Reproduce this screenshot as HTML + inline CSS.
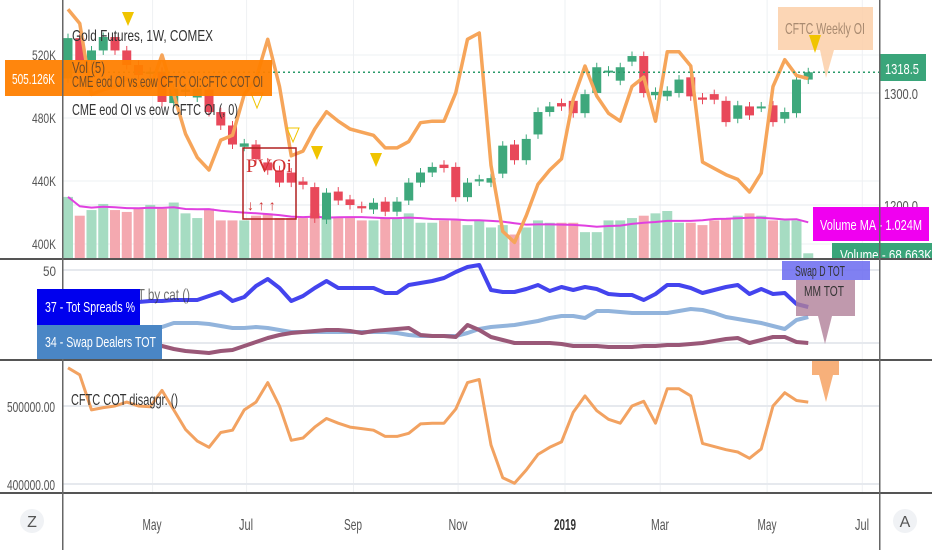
<!DOCTYPE html>
<html><head><meta charset="utf-8">
<style>
html,body{margin:0;padding:0;background:#fff;}
body{width:932px;height:550px;overflow:hidden;font-family:"Liberation Sans",sans-serif;}
svg{display:block;}
</style></head>
<body>
<svg id="chart" width="932" height="550" viewBox="0 0 932 550" xmlns="http://www.w3.org/2000/svg">
<g id="grid"></g>
<g id="vols"></g>
<g id="candles"></g>
<g id="lines"></g>
<g id="over"></g>
</svg>
<script>
// ---- data ----
const months = ["May","Jul","Sep","Nov","2019","Mar","May","Jul"];
const monthWeek = [7.2,15.2,24.3,33.2,42.3,50.4,59.5,67.6];
const opens = [1313,1349,1329,1338,1350,1338,1325,1317,1319,1291,1301,1296,1303,1283,1271,1252,1254,1238,1231,1229,1221,1216,1187,1212,1205,1199,1196,1203,1194,1204,1220,1229,1236,1234,1207,1221,1220,1228,1254,1240,1263,1283,1291,1293,1282,1300,1319,1311,1328,1333,1298,1297,1300,1314,1296,1299,1293,1277,1288,1287,1289,1277,1282,1312];
const closes = [1349,1329,1338,1350,1338,1325,1316,1319,1292,1304,1303,1304,1283,1271,1254,1255,1241,1231,1220,1220,1218,1188,1211,1204,1200,1197,1202,1194,1203,1220,1229,1234,1233,1207,1220,1223,1224,1253,1240,1259,1283,1288,1288,1282,1299,1323,1320,1323,1333,1300,1301,1302,1312,1297,1294,1294,1274,1289,1280,1288,1274,1283,1312,1318.5];
const volumes = [1.3,0.9,1.02,1.15,1.02,0.98,1.05,1.13,1.05,1.18,0.95,0.85,1.05,0.8,0.8,0.8,0.9,0.95,0.85,0.85,0.85,0.95,0.85,0.85,0.85,0.8,0.8,0.85,0.85,0.95,0.75,0.75,0.8,0.8,0.7,0.8,0.65,0.7,0.5,0.65,0.8,0.75,0.75,0.75,0.55,0.55,0.8,0.8,0.85,0.9,0.95,1.0,0.75,0.75,0.7,0.8,0.85,0.9,0.95,0.9,0.8,0.8,0.8,0.1];
const openInterestK = [549,540,495,498,500,505,500,499,520,495,470,455,447,466,469,495,505,530,500,456,459,473,484,478,473,471,469,461,461,465,477,478,478,496,530,534,450,408,401,418,438,447,454,492,513,494,483,478,500,506,478,522,522,513,452,448,444,441,433,445,500,517,507,505];
const totSpreads = [32.5,33,33.5,32.5,33,33.5,34,34.5,34.5,35,35,35,37,39,34.5,36.5,42,45.5,41,34.5,37,41,44.5,41,41,41,41,38.5,38.5,42.5,43.5,44.5,46,49,51.5,52.5,40,39,39,40.5,42.5,39.5,41.5,40,41.5,40.5,38,37.5,37.5,35,38,42.5,42.5,41,38.5,40,41.5,42.5,38,40.5,38,38.5,33,31.5];
const mmTot = [22,22,21.5,21.5,21,21,21,21,21.5,23.5,23.5,23.5,23,22,21,21,21.5,21,20,19,19,19,19,19,19,19,19,19,18.5,17.5,17,17,17,17,18.5,20.5,21.5,22,22.5,23.5,24.5,26,27,27,26,29.5,29.5,29,28.5,28.5,28.5,28.5,29.5,30.5,30,28.5,26.5,25.5,24.5,23.5,22,20.5,25,26.5];
const swapDealers = [12.5,12.5,12,11.5,11.5,12,12.5,12.5,12,10.5,9.5,9,8.5,9.5,10,12,14,16,17.5,18.5,19,19.5,20,20,19.5,18.5,19.5,20,20.5,21,17.5,17,17,16.5,22.5,20,16.5,15,13.5,13.5,13.5,13.5,13,12,12,12,11.5,11.5,11.5,12,12,12.5,12.5,13,13.5,14.5,15.5,16,13.5,15,16.5,16.5,14,13.5];
const leftTicks = [520,480,440,400];
const rightTicks = [1300,1200];
const pane3Ticks = [500,400];

// ---- scales ----
const X0=63, X1=880;
const xW = i => 68 + i*11.75;
const yL = k => 244 - (k-400)*1.575;
const yP = p => 93 - (p-1300)*1.12;
const yV = m => 258 - m*47;
const y2 = v => 370 - 2*v;
const y3 = k => 406 - (k-500)*0.78;

const NS="http://www.w3.org/2000/svg";
function mk(parent,tag,attrs,text){
  const e=document.createElementNS(NS,tag);
  for(const k in attrs) e.setAttribute(k,attrs[k]);
  if(text!==undefined) e.textContent=text;
  parent.appendChild(e); return e;
}
const G=id=>document.getElementById(id);
const grid=G('grid'), vols=G('vols'), cand=G('candles'), lines=G('lines'), over=G('over');

monthWeek.forEach((w,i)=>{
  const l=mk(grid,'line',{x1:xW(w),x2:xW(w),y1:0,y2:493,stroke:'#eef0f3','stroke-width':1});
  
  
});
leftTicks.forEach(k=>{
  const l=mk(grid,'line',{x1:X0,x2:X1,y1:yL(k),y2:yL(k),stroke:'#eef0f3'});
  
  
  const t=mk(grid,'text',{x:56,y:yL(k)+5,'text-anchor':'end','font-size':14,fill:'#555',textLength:24,lengthAdjust:'spacingAndGlyphs'},k+'K');
  
  
});
rightTicks.forEach(p=>{
  const l=mk(grid,'line',{x1:X0,x2:X1,y1:yP(p),y2:yP(p),stroke:'#e6e9ee'});
  
  
  const t=mk(grid,'text',{x:884,y:yP(p)+6,'font-size':15,fill:'#555',textLength:34,lengthAdjust:'spacingAndGlyphs'},p.toFixed(1));
  
  
});
[[50,270],[30,343]].forEach(a=>{
  const l=mk(grid,'line',{x1:X0,x2:X1,y1:a[1],y2:a[1],stroke:'#e6e9ee','stroke-width':2});
  
  
});
const t50=mk(grid,'text',{x:56,y:276,'text-anchor':'end','font-size':14,fill:'#555',textLength:13,lengthAdjust:'spacingAndGlyphs'},'50');


pane3Ticks.forEach(k=>{
  const l=mk(grid,'line',{x1:X0,x2:X1,y1:y3(k),y2:y3(k),stroke:'#e6e9ee','stroke-width':2});
  
  
  const t=mk(grid,'text',{x:7,y:y3(k)+6,'font-size':15,fill:'#555',textLength:48,lengthAdjust:'spacingAndGlyphs'},(k*1000)+'.00');
  
  
});

volumes.forEach((m,i)=>{
  const up=closes[i]>=opens[i];
  const r=mk(vols,'rect',{x:xW(i)-5,y:yV(m),width:10,height:258-yV(m),fill:up?'#a6dcc2':'#f4a9b0'});
  
  
});
let maPts=[];
volumes.forEach((m,i)=>{
  const s=volumes.slice(Math.max(0,i-9),i+1);
  const a=s.reduce((p,c)=>p+c,0)/s.length;
  maPts.push(xW(i)+','+yV(a).toFixed(1));
});
const ma=mk(vols,'polyline',{points:maPts.join(' '),fill:'none',stroke:'#e040e0','stroke-width':2});



opens.forEach((o,i)=>{
  const c=closes[i], up=c>=o, col=up?'#3ea87c':'#e8485a';
  const hi=Math.max(o,c)+4, lo=Math.min(o,c)-4;
  const w=mk(cand,'line',{x1:xW(i),x2:xW(i),y1:yP(hi),y2:yP(lo),stroke:col,'stroke-width':1});
  
  
  const top=yP(Math.max(o,c)), h=Math.max(2,yP(Math.min(o,c))-top);
  const b=mk(cand,'rect',{x:xW(i)-4.5,y:top,width:9,height:h,fill:col});
  
  
});

function poly(arr,fx,fy,color,w,name,op){
  const p=arr.map((v,i)=>fx(i)+','+fy(v).toFixed(1)).join(' ');
  const e=mk(lines,'polyline',{points:p,fill:'none',stroke:color,'stroke-width':w,'stroke-linejoin':'round',opacity:op||1});
  
  
}
poly(openInterestK,xW,yL,'#f6a55a',3.5,'cme-oi-line');
poly(totSpreads,xW,y2,'#4444ee',4,'tot-spreads-line');
poly(mmTot,xW,y2,'#92b4dc',4,'mm-tot-line');
poly(swapDealers,xW,y2,'#9a5878',4,'swap-dealers-line');
poly(openInterestK,xW,y3,'#f2a261',3,'cftc-cot-line');
const dl=mk(lines,'line',{x1:X0,x2:X1,y1:yP(1318.5),y2:yP(1318.5),stroke:'#2a9a6a','stroke-width':1.5,'stroke-dasharray':'2,3'});


</script>
<svg style="position:absolute;left:0;top:0" width="932" height="550">
 <g font-family="Liberation Sans, sans-serif" lengthAdjust="spacingAndGlyphs">
  <polygon points="122,12 134,12 128,26" fill="#f0c400"/>
  <polygon points="311,146 323,146 317,160" fill="#f0c400"/>
  <polygon points="370,153 382,153 376,167" fill="#f0c400"/>
  <polygon points="251,93 263,93 257,108" fill="none" stroke="#f0c400"/>
  <polygon points="287,128 299,128 293,142" fill="none" stroke="#f0c400"/>
  <rect x="243" y="148" width="53" height="71" fill="none" stroke="#b02020" stroke-width="1.5"/>
  <text x="246" y="172" font-family="Liberation Serif, serif" font-size="19" fill="#d03030" textLength="46" lengthAdjust="spacingAndGlyphs">PVOi</text>
  <text x="247" y="210" font-size="14" fill="#d03030">↓   ↑   ↑</text>
  <text x="72" y="41" font-size="16" fill="#333" textLength="141" lengthAdjust="spacingAndGlyphs">Gold Futures, 1W, COMEX</text>
  <rect x="5" y="60" width="267" height="36" fill="#ff7f00" opacity="0.95"/>
  <text x="12" y="84" font-size="15" fill="#fff" textLength="43" lengthAdjust="spacingAndGlyphs">505.126K</text>
  <text x="72" y="73" font-size="16" fill="#333" opacity="0.7" textLength="33" lengthAdjust="spacingAndGlyphs">Vol (5)</text>
  <text x="72" y="87" font-size="16" fill="#333" opacity="0.7" textLength="191" lengthAdjust="spacingAndGlyphs">CME eod OI vs eow CFTC OI:CFTC COT OI</text>
  <text x="72" y="115" font-size="16" fill="#333" textLength="166" lengthAdjust="spacingAndGlyphs">CME eod OI vs eow CFTC OI (, 0)</text>
  <rect x="778" y="7" width="95" height="43" fill="#fbcfa8" opacity="0.85"/>
  <polygon points="820,50 834,50 826,78" fill="#fbcfa8" opacity="0.85"/>
  <text x="785" y="34" font-size="16" fill="#a88a70" textLength="80" lengthAdjust="spacingAndGlyphs">CFTC Weekly OI</text>
  <polygon points="809,35 821,35 815,53" fill="#f0c400"/>
  <rect x="880" y="54" width="46" height="27" fill="#3aa57a"/>
  <text x="885" y="74" font-size="15" fill="#fff" textLength="34" lengthAdjust="spacingAndGlyphs">1318.5</text>
  <rect x="813" y="207" width="116" height="34" fill="#f000f0"/>
  <text x="820" y="230" font-size="15" fill="#fff" textLength="102" lengthAdjust="spacingAndGlyphs">Volume MA - 1.024M</text>
  <rect x="832" y="243" width="100" height="15" fill="#3aa57a"/>
  <text x="840" y="260" font-size="15" fill="#fff" textLength="92" lengthAdjust="spacingAndGlyphs">Volume - 68.663K</text>
  <rect x="0" y="258" width="932" height="2" fill="#555"/>
  <rect x="0" y="359" width="932" height="2" fill="#555"/>
  <rect x="0" y="492" width="932" height="2" fill="#555"/>
  <rect x="62" y="0" width="1.5" height="550" fill="#666"/>
  <rect x="879" y="0" width="1.5" height="550" fill="#666"/>
  <text x="71" y="300" font-size="16" fill="#333" opacity="0.7" textLength="119" lengthAdjust="spacingAndGlyphs">MM, PTT TOT by cat ()</text>
  <rect x="37" y="289" width="103" height="36" fill="#0000ee"/>
  <text x="45" y="312" font-size="15" fill="#fff" textLength="90" lengthAdjust="spacingAndGlyphs">37 - Tot Spreads %</text>
  <rect x="37" y="325" width="125" height="34" fill="#4a86c5"/>
  <text x="45" y="347" font-size="15" fill="#fff" textLength="111" lengthAdjust="spacingAndGlyphs">34 - Swap Dealers TOT</text>
  <rect x="782" y="261" width="88" height="19" fill="#6a6af0" opacity="0.85"/>
  <text x="795" y="276" font-size="15" fill="#333" textLength="50" lengthAdjust="spacingAndGlyphs">Swap D TOT</text>
  <rect x="796" y="280" width="59" height="36" fill="#b08098" opacity="0.8"/>
  <polygon points="818,316 832,316 825,344" fill="#b08098" opacity="0.8"/>
  <text x="804" y="296" font-size="15" fill="#333" textLength="40" lengthAdjust="spacingAndGlyphs">MM TOT</text>
  <text x="71" y="405" font-size="16" fill="#333" textLength="107" lengthAdjust="spacingAndGlyphs">CFTC COT disaggr. ()</text>
  <rect x="812" y="361" width="27" height="14" fill="#f7b07a"/>
  <polygon points="819,375 833,375 826,402" fill="#f7b07a"/>
  <g font-size="16" fill="#555" text-anchor="middle">
   <text x="152" y="530" textLength="19" lengthAdjust="spacingAndGlyphs">May</text>
   <text x="246" y="530" textLength="14" lengthAdjust="spacingAndGlyphs">Jul</text>
   <text x="353" y="530" textLength="18" lengthAdjust="spacingAndGlyphs">Sep</text>
   <text x="458" y="530" textLength="19" lengthAdjust="spacingAndGlyphs">Nov</text>
   <text x="565" y="530" font-weight="bold" fill="#333" textLength="22" lengthAdjust="spacingAndGlyphs">2019</text>
   <text x="660" y="530" textLength="18" lengthAdjust="spacingAndGlyphs">Mar</text>
   <text x="767" y="530" textLength="19" lengthAdjust="spacingAndGlyphs">May</text>
   <text x="862" y="530" textLength="14" lengthAdjust="spacingAndGlyphs">Jul</text>
  </g>
  <circle cx="32" cy="521" r="12" fill="#f0f2f5"/>
  <text x="32" y="527" font-size="16" fill="#555" text-anchor="middle">Z</text>
  <circle cx="905" cy="521" r="12" fill="#f0f2f5"/>
  <text x="905" y="527" font-size="16" fill="#555" text-anchor="middle">A</text>
 </g>
</svg>
</body></html>
